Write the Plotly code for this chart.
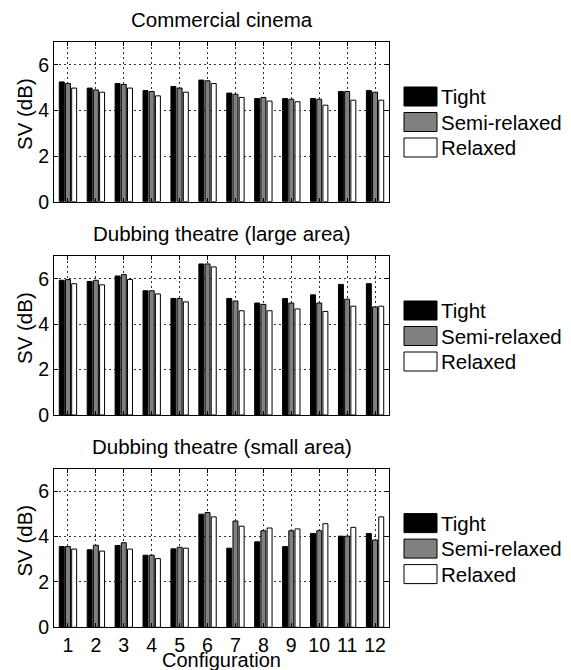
import plotly.graph_objects as go

configs = list(range(1, 13))
series_names = ["Tight", "Semi-relaxed", "Relaxed"]
panel_titles = ["Commercial cinema", "Dubbing theatre (large area)", "Dubbing theatre (small area)"]

cinema_tight = [5.25, 4.98, 5.18, 4.87, 5.05, 5.33, 4.76, 4.52, 4.52, 4.52, 4.83, 4.87]
cinema_semi = [5.18, 4.90, 5.14, 4.83, 4.98, 5.30, 4.71, 4.57, 4.49, 4.49, 4.83, 4.80]
cinema_relaxed = [4.98, 4.80, 4.98, 4.64, 4.80, 5.18, 4.57, 4.41, 4.38, 4.23, 4.45, 4.45]

large_tight = [5.93, 5.88, 6.12, 5.47, 5.13, 6.65, 5.13, 4.93, 5.13, 5.29, 5.75, 5.78]
large_semi = [5.96, 5.93, 6.18, 5.47, 5.13, 6.65, 5.02, 4.87, 4.93, 4.93, 5.10, 4.76]
large_relaxed = [5.78, 5.73, 5.97, 5.33, 4.98, 6.52, 4.59, 4.59, 4.67, 4.56, 4.79, 4.79]

small_tight = [3.56, 3.42, 3.61, 3.18, 3.46, 4.99, 3.49, 3.77, 3.56, 4.14, 4.02, 4.14]
small_semi = [3.56, 3.62, 3.73, 3.18, 3.53, 5.06, 4.69, 4.26, 4.26, 4.26, 4.02, 3.85]
small_relaxed = [3.45, 3.36, 3.45, 3.03, 3.49, 4.87, 4.46, 4.38, 4.34, 4.57, 4.41, 4.87]

y_ticks = [0, 2, 4, 6]
panels = [
    [cinema_tight, cinema_semi, cinema_relaxed],
    [large_tight, large_semi, large_relaxed],
    [small_tight, small_semi, small_relaxed],
]
colors = ["#000000", "#808080", "#ffffff"]

W, H = 571, 670
FONT = "Liberation Sans, Arial, sans-serif"
x_left, x_right = 54, 389
panel_px = [(42, 201.7), (256, 415), (468.6, 627.3)]  # top, bottom in px

fig = go.Figure()
for i, (vals, (top, bot)) in enumerate(zip(panels, panel_px)):
    k = "" if i == 0 else str(i + 1)
    for s, (v, c, name) in enumerate(zip(vals, colors, series_names)):
        fig.add_trace(go.Bar(
            x=configs, y=v, name=name, marker=dict(color=c, line=dict(color="#000000", width=1)),
            xaxis="x" + k, yaxis="y" + k, showlegend=False, offsetgroup=str(s),
        ))
    ax = dict(
        domain=[x_left / W, x_right / W], range=[0.5, 12.5], tickmode="array", tickvals=configs,
        ticktext=[str(c) for c in configs], showticklabels=(i == 2), automargin=False,
        ticks="inside", ticklen=4, tickcolor="#000000", showline=True, linecolor="#000000",
        linewidth=1, mirror="ticks", showgrid=True, gridcolor="#303030", griddash="2px,3px",
        gridwidth=1, zeroline=False, anchor="y" + k, ticklabelstandoff=0,
        tickfont=dict(family=FONT, size=19.5, color="#000000"),
    )
    ay = dict(
        domain=[1 - bot / H, 1 - top / H], range=[0, 7], tickmode="array", tickvals=y_ticks,
        ticks="inside", ticklen=4, tickcolor="#000000", showline=True, linecolor="#000000",
        linewidth=1, mirror="ticks", showgrid=True, gridcolor="#303030", griddash="2px,3px",
        gridwidth=1, zeroline=False, anchor="x" + k, ticklabelstandoff=0, automargin=False,
        tickfont=dict(family=FONT, size=19.5, color="#000000"),
    )
    fig.layout["xaxis" + k] = ax
    fig.layout["yaxis" + k] = ay

    # title
    fig.add_annotation(text=panel_titles[i], xref="paper", yref="paper",
                       x=(x_left + x_right) / 2 / W, y=1 - (top - 22) / H, showarrow=False,
                       xanchor="center", yanchor="middle", font=dict(family=FONT, size=20.5, color="#000000"))
    # y label
    fig.add_annotation(text="SV (dB)", xref="paper", yref="paper", x=25 / W, y=1 - (top + 72) / H,
                       showarrow=False, textangle=-90, xanchor="center", yanchor="middle",
                       font=dict(family=FONT, size=20.5, color="#000000"))
    # custom legend
    for s, (c, name) in enumerate(zip(colors, series_names)):
        st = top + 45 + s * 25.5
        fig.add_shape(type="rect", xref="paper", yref="paper", x0=404 / W, x1=437 / W,
                      y0=1 - (st + 19) / H, y1=1 - st / H, fillcolor=c,
                      line=dict(color="#000000", width=1))
        fig.add_annotation(text=name, xref="paper", yref="paper", x=439 / W, y=1 - (st + 9.5) / H,
                           showarrow=False, xanchor="left", yanchor="middle",
                           font=dict(family=FONT, size=20.5, color="#000000"))

# x-axis title of the bottom panel
fig.add_annotation(text="Configuration", xref="paper", yref="paper",
                   x=(x_left + x_right) / 2 / W, y=0, showarrow=False,
                   xanchor="center", yanchor="bottom", yshift=-3,
                   font=dict(family=FONT, size=20, color="#000000"))

fig.update_layout(
    width=W, height=H, margin=dict(l=0, r=0, t=0, b=0), paper_bgcolor="#ffffff",
    plot_bgcolor="#ffffff", barmode="group", bargap=1 / 3, bargroupgap=0.2,
    font=dict(family=FONT, color="#000000"),
)
fig.write_html("out.html")
